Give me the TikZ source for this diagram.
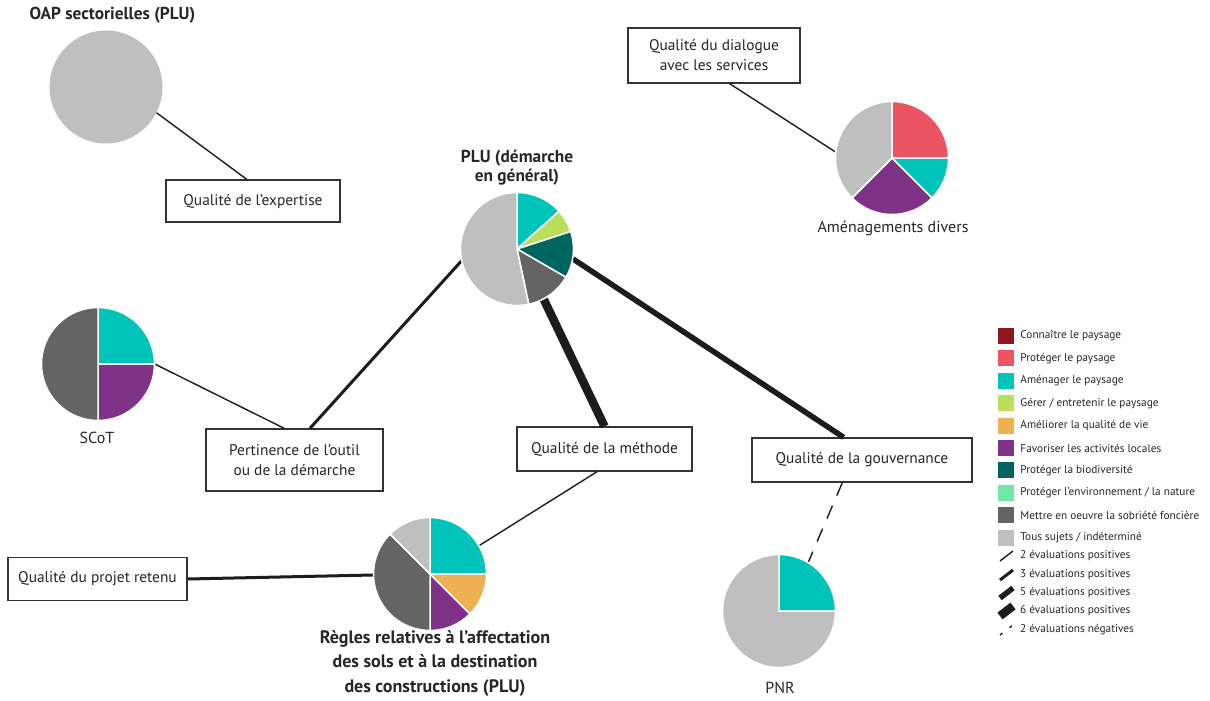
\documentclass[tikz,border=0pt]{standalone}
\usepackage{fontspec}
\setmainfont{PT Sans}
\usetikzlibrary{positioning}
\definecolor{connaitre}{HTML}{8C1820}
\definecolor{proteger}{HTML}{EB5460}
\definecolor{amenager}{HTML}{00C4BA}
\definecolor{gerer}{HTML}{BADF5B}
\definecolor{ameliorer}{HTML}{EEB052}
\definecolor{favoriser}{HTML}{7E3388}
\definecolor{biodiv}{HTML}{00655E}
\definecolor{environ}{HTML}{72E8A8}
\definecolor{sobriete}{HTML}{646464}
\definecolor{tous}{HTML}{BFBFBF}
\definecolor{trait}{HTML}{1C1C1C}
\tikzstyle{crit} = [rectangle, draw=black!80, line width=1.3pt, fill=white, align=center, minimum height=42pt, font=\fontsize{15.4}{20}\selectfont, text=black!85]
\tikzstyle{pienode} = [circle, minimum size=113pt, inner sep=0pt]
\tikzstyle{bigtitle} = [align=center, font=\fontsize{17.3}{19}\selectfont\bfseries, text=black!85]
\tikzstyle{pielabel} = [font=\fontsize{16}{18}\selectfont, text=black!85]
\tikzstyle{swatch} = [rectangle, minimum size=16pt, inner sep=0pt]
\tikzstyle{legtext} = [font=\fontsize{11.3}{12}\selectfont, text=black!85, inner sep=0pt]
\tikzstyle{eval2} = [draw=trait, line width=1.4pt]
\tikzstyle{eval3} = [draw=trait, line width=3pt]
\tikzstyle{eval5} = [draw=trait, line width=5.5pt]
\tikzstyle{eval6} = [draw=trait, line width=8.5pt]
\tikzstyle{neg2} = [draw=trait, line width=1.4pt, dash pattern=on 14pt off 11pt]
\newcommand{\pieslice}[4]{\fill[#4, draw=white, line width=1.5pt] (#1.center) -- ++(#2:56.5) arc[start angle=#2, end angle=#3, radius=56.5] -- cycle;}
\begin{document}
\begin{tikzpicture}[x=1pt, y=1pt]
        \useasboundingbox (0,0) rectangle (1210,-701);

        % pies
        \node (oap) [pienode, fill=tous] at (106,-87) {};
        \node (plu) [pienode] at (517,-249) {};
        \node (amenag) [pienode] at (892,-158) {};
        \node (scot) [pienode] at (98,-364) {};
        \node (regles) [pienode] at (430,-574) {};
        \node (pnr) [pienode] at (779,-611) {};

        \node (oaptitle) [bigtitle, anchor=west] at (26,-15) {OAP sectorielles (PLU)};
        \node (plutitle) [bigtitle] at (517,-168) {PLU (démarche\\en général)};
        \node (reglestitle) [bigtitle, font=\fontsize{18}{24.5}\selectfont\bfseries] at (435,-663) {Règles relatives à l’affectation\\des sols et à la destination\\des constructions (PLU)};
        \node (amenaglabel) [pielabel] at (893,-228) {Aménagements divers};
        \node (scotlabel) [pielabel] at (97,-438) {SCoT};
        \node (pnrlabel) [pielabel] at (780,-688) {PNR};

        % criteres
        \node (expertise) [crit, minimum width=174pt] at (253,-201) {Qualité de l’expertise};
        \node (dialogue) [crit, minimum width=172pt, minimum height=55pt] at (714,-55.5) {Qualité du dialogue\\avec les services};
        \node (pertinence) [crit, minimum width=177pt, minimum height=62pt] at (294.5,-460) {Pertinence de l’outil\\ou de la démarche};
        \node (methode) [crit, minimum width=175pt, minimum height=44pt] at (604.5,-449) {Qualité de la méthode};
        \node (gouvernance) [crit, minimum width=220pt, minimum height=44pt] at (862,-460) {Qualité de la gouvernance};
        \node (projet) [crit, minimum width=179pt, minimum height=43pt] at (97.5,-579) {Qualité du projet retenu};

        \path [eval2] (oap.-27) -- (expertise.106);
        \path [eval2] (dialogue.-61) -- (amenag.174);
        \path [eval2] (scot.0) -- (pertinence.108);
        \path [eval3] (plu.192) -- (pertinence.64);
        \path [eval6] (plu.-62) -- (methode.north);
        \path [eval5] (plu.-10) -- (gouvernance.129);
        \path [eval2] (methode.252) -- (regles.30);
        \path [eval3] (projet.east) -- (regles.181);
        \path [neg2] (gouvernance.-131) -- (pnr.59);

        \pieslice{plu}{90}{42}{amenager}
        \pieslice{plu}{42}{18}{gerer}
        \pieslice{plu}{18}{-30}{biodiv}
        \pieslice{plu}{-30}{-78}{sobriete}
        \pieslice{plu}{-78}{-270}{tous}

        \pieslice{amenag}{90}{0}{proteger}
        \pieslice{amenag}{0}{-45}{amenager}
        \pieslice{amenag}{-45}{-135}{favoriser}
        \pieslice{amenag}{-135}{-270}{tous}

        \pieslice{scot}{90}{0}{amenager}
        \pieslice{scot}{0}{-90}{favoriser}
        \pieslice{scot}{-90}{-270}{sobriete}

        \pieslice{regles}{90}{0}{amenager}
        \pieslice{regles}{0}{-45}{ameliorer}
        \pieslice{regles}{-45}{-90}{favoriser}
        \pieslice{regles}{-90}{-225}{sobriete}
        \pieslice{regles}{-225}{-270}{tous}

        \pieslice{pnr}{90}{0}{amenager}
        \pieslice{pnr}{0}{-270}{tous}

        % legende
        \node (leg1) [swatch, fill=connaitre, label={[legtext, label distance=6pt]right:Connaître le paysage}] at (1006,-336) {};
        \node (leg2) [swatch, fill=proteger, below=6pt of leg1, label={[legtext, label distance=6pt]right:Protéger le paysage}] {};
        \node (leg3) [swatch, fill=amenager, below=6pt of leg2, label={[legtext, label distance=6pt]right:Aménager le paysage}] {};
        \node (leg4) [swatch, fill=gerer, below=6pt of leg3, label={[legtext, label distance=6pt]right:Gérer / entretenir le paysage}] {};
        \node (leg5) [swatch, fill=ameliorer, below=6pt of leg4, label={[legtext, label distance=6pt]right:Améliorer la qualité de vie}] {};
        \node (leg6) [swatch, fill=favoriser, below=6pt of leg5, label={[legtext, label distance=6pt]right:Favoriser les activités locales}] {};
        \node (leg7) [swatch, fill=biodiv, below=6pt of leg6, label={[legtext, label distance=6pt]right:Protéger la biodiversité}] {};
        \node (leg8) [swatch, fill=environ, below=6pt of leg7, label={[legtext, label distance=6pt]right:Protéger l’environnement / la nature}] {};
        \node (leg9) [swatch, fill=sobriete, below=6pt of leg8, label={[legtext, label distance=6pt]right:Mettre en oeuvre la sobriété foncière}] {};
        \node (leg10) [swatch, fill=tous, below=6pt of leg9, label={[legtext, label distance=6pt]right:Tous sujets / indéterminé}] {};

        \node (leg11) [legtext, anchor=west] at (1020,-556) {2 évaluations positives};
        \node (leg12) [legtext, anchor=west] at (1020,-575) {3 évaluations positives};
        \node (leg13) [legtext, anchor=west] at (1020,-593) {5 évaluations positives};
        \node (leg14) [legtext, anchor=west] at (1020,-611) {6 évaluations positives};
        \node (leg15) [legtext, anchor=west] at (1020,-630) {2 évaluations négatives};
        \path [eval2] ([shift={(-20,-5)}]leg11.west) -- ++(13,10);
        \path [eval3] ([shift={(-20,-5)}]leg12.west) -- ++(13,10);
        \path [eval5] ([shift={(-20,-5)}]leg13.west) -- ++(13,10);
        \path [eval6] ([shift={(-20,-5)}]leg14.west) -- ++(13,10);
        \path [neg2, dash pattern=on 3pt off 9pt] ([shift={(-20,-5)}]leg15.west) -- ++(13,10);

    \end{tikzpicture}
\end{document}
